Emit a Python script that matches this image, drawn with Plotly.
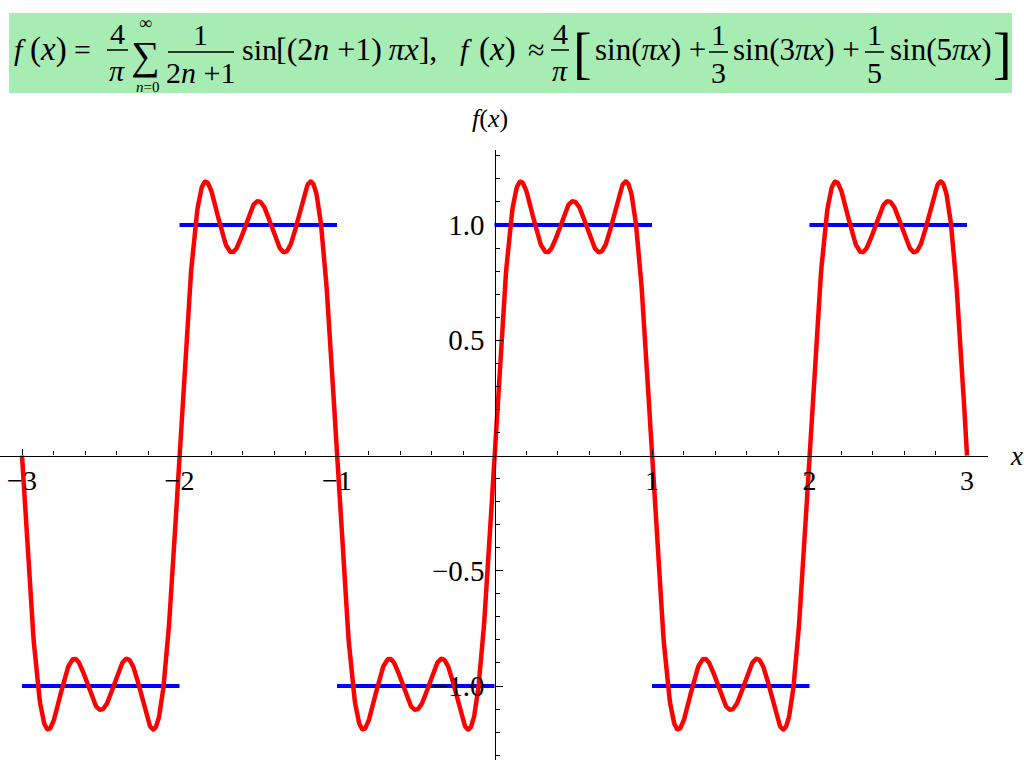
import numpy as np
import plotly.graph_objects as go

# ---- data ----
harmonics = [1, 3, 5]                 # (2n+1) for n = 0, 1, 2
coefficients = [1.0, 1/3, 1/5]         # 1/(2n+1)
prefactor = 4 / np.pi
x_min, x_max = -3.0, 3.0

seg_start = [-3, -2, -1, 0, 1, 2]
seg_end = [-2, -1, 0, 1, 2, 3]
seg_level = [-1, 1, -1, 1, -1, 1]

x_tick_vals = [-3, -2, -1, 1, 2, 3]
x_tick_text = ["\u22123", "\u22122", "\u22121", "1", "2", "3"]
y_tick_vals = [-1.0, -0.5, 0.5, 1.0]
y_tick_text = ["\u22121.0", "\u22120.5", "0.5", "1.0"]

# ---- curves ----
xs = np.linspace(x_min, x_max, 1501)
ys = prefactor * sum(c * np.sin(h * np.pi * xs) for h, c in zip(harmonics, coefficients))

bx, by = [], []
for a, b, lv in zip(seg_start, seg_end, seg_level):
    bx += [a, b, None]
    by += [lv, lv, None]

W, H = 1024, 768
SERIF = "Liberation Serif, Times New Roman, serif"

fig = go.Figure()
fig.add_trace(go.Scatter(x=bx, y=by, mode="lines",
                         line=dict(color="#0000ff", width=4), hoverinfo="skip"))
fig.add_trace(go.Scatter(x=xs, y=ys, mode="lines",
                         line=dict(color="#ff0000", width=4.5), hoverinfo="skip"))

# axis geometry (pixels)
px_per_x = 157.5
px_x0 = 494.5
px_per_y = 230.5
py_y0 = 455.5
x_left_px, x_right_px = 0, 988
y_top_px, y_bot_px = 150, 760

xr = [(x_left_px - px_x0) / px_per_x, (x_right_px - px_x0) / px_per_x]
yr = [-(y_bot_px - py_y0) / px_per_y, (py_y0 - y_top_px) / px_per_y]

x_minor = [round(v, 1) for v in np.arange(-3.0, 3.01, 0.2) if abs(v - round(v)) > 1e-6]
y_minor = [round(v, 1) for v in np.arange(-1.3, 1.31, 0.1) if abs(v * 2 - round(v * 2)) > 1e-6]

fig.update_layout(
    width=W, height=H,
    margin=dict(l=0, r=0, t=0, b=0),
    paper_bgcolor="white", plot_bgcolor="white",
    showlegend=False,
    xaxis=dict(
        domain=[x_left_px / W, x_right_px / W], range=xr,
        anchor="free", position=1 - py_y0 / H,
        showline=True, linecolor="black", linewidth=1.3,
        showgrid=False, zeroline=False,
        ticks="inside", ticklen=6, tickwidth=1.2, tickcolor="black",
        tickmode="array", tickvals=x_tick_vals, ticktext=x_tick_text,
        tickfont=dict(family=SERIF, size=28, color="black"),
        minor=dict(tickmode="array", tickvals=x_minor, ticks="inside",
                   ticklen=4, tickwidth=1.1, tickcolor="black", showgrid=False),
        layer="above traces",
    ),
    yaxis=dict(
        domain=[1 - y_bot_px / H, 1 - y_top_px / H], range=yr,
        anchor="free", position=px_x0 / W,
        showline=True, linecolor="black", linewidth=1.3,
        showgrid=False, zeroline=False,
        ticks="inside", ticklen=7, tickwidth=1.2, tickcolor="black",
        tickmode="array", tickvals=y_tick_vals, ticktext=y_tick_text,
        tickfont=dict(family=SERIF, size=29, color="black"),
        ticklabelstandoff=4,
        minor=dict(tickmode="array", tickvals=y_minor, ticks="inside",
                   ticklen=4, tickwidth=1.1, tickcolor="black", showgrid=False),
        layer="above traces",
    ),
)

# ---- header formula box ----
def P(x, y):
    return x / W, 1 - y / H

shapes = []
x0, y0 = P(9, 93)
x1, y1 = P(1012, 13)
shapes.append(dict(type="rect", xref="paper", yref="paper", x0=x0, y0=y0, x1=x1, y1=y1,
                   fillcolor="#a7ecb2", line=dict(width=0), layer="below"))

annotations = []

def txt(s, x, y, size=30, anchor="center"):
    px, py = P(x, y)
    annotations.append(dict(text=s, x=px, y=py, xref="paper", yref="paper",
                            xanchor=anchor, yanchor="middle", showarrow=False,
                            font=dict(family=SERIF, size=size, color="black")))

def bar(xa, xb, y):
    pa = P(xa, y)
    pb = P(xb, y)
    shapes.append(dict(type="line", xref="paper", yref="paper",
                       x0=pa[0], y0=pa[1], x1=pb[0], y1=pb[1],
                       line=dict(color="black", width=1.5)))

MAIN_Y = 49
# left formula
txt("<i>f</i>", 20, MAIN_Y)
txt("(<i>x</i>)", 48, MAIN_Y, size=33)
txt("=", 82, MAIN_Y)
txt("4", 117, 33); bar(107, 128, 50); txt("<i>\u03c0</i>", 117, 70)
txt("\u2211", 145, 55, size=40)
txt("\u221e", 145, 23, size=18)
txt("<i>n</i>=0", 147, 87, size=15)
txt("1", 200, 35); bar(168, 234, 52); txt("2<i>n</i> +1", 200, 72)
txt("sin", 240, MAIN_Y, anchor="left")
txt("[(2<i>n</i> +1)\u2009<i>\u03c0x</i>],", 274, MAIN_Y, size=32, anchor="left")
txt("<i>f</i>", 466, MAIN_Y)
txt("(<i>x</i>)", 497, MAIN_Y, size=33)
txt("\u2248", 536, MAIN_Y)
txt("4", 560, 33); bar(551, 569, 50); txt("<i>\u03c0</i>", 560, 70)
txt("[", 582, 53, size=56)
txt("sin(<i>\u03c0x</i>) +", 593, MAIN_Y, size=31, anchor="left")
txt("1", 718, 35); bar(709, 728, 52); txt("3", 718, 72)
txt("sin(3<i>\u03c0x</i>) +", 731, MAIN_Y, size=31, anchor="left")
txt("1", 874, 35); bar(865, 884, 52); txt("5", 874, 72)
txt("sin(5<i>\u03c0x</i>)", 888, MAIN_Y, size=31, anchor="left")
txt("]", 1002, 53, size=56)

# axis labels
txt("<i>f</i>(<i>x</i>)", 490, 119, size=26)
txt("<i>x</i>", 1016, 456, size=27)

fig.update_layout(shapes=shapes, annotations=annotations)

fig.write_html("out.html", config={"displayModeBar": False},
               post_script="document.body.style.margin='0';")
